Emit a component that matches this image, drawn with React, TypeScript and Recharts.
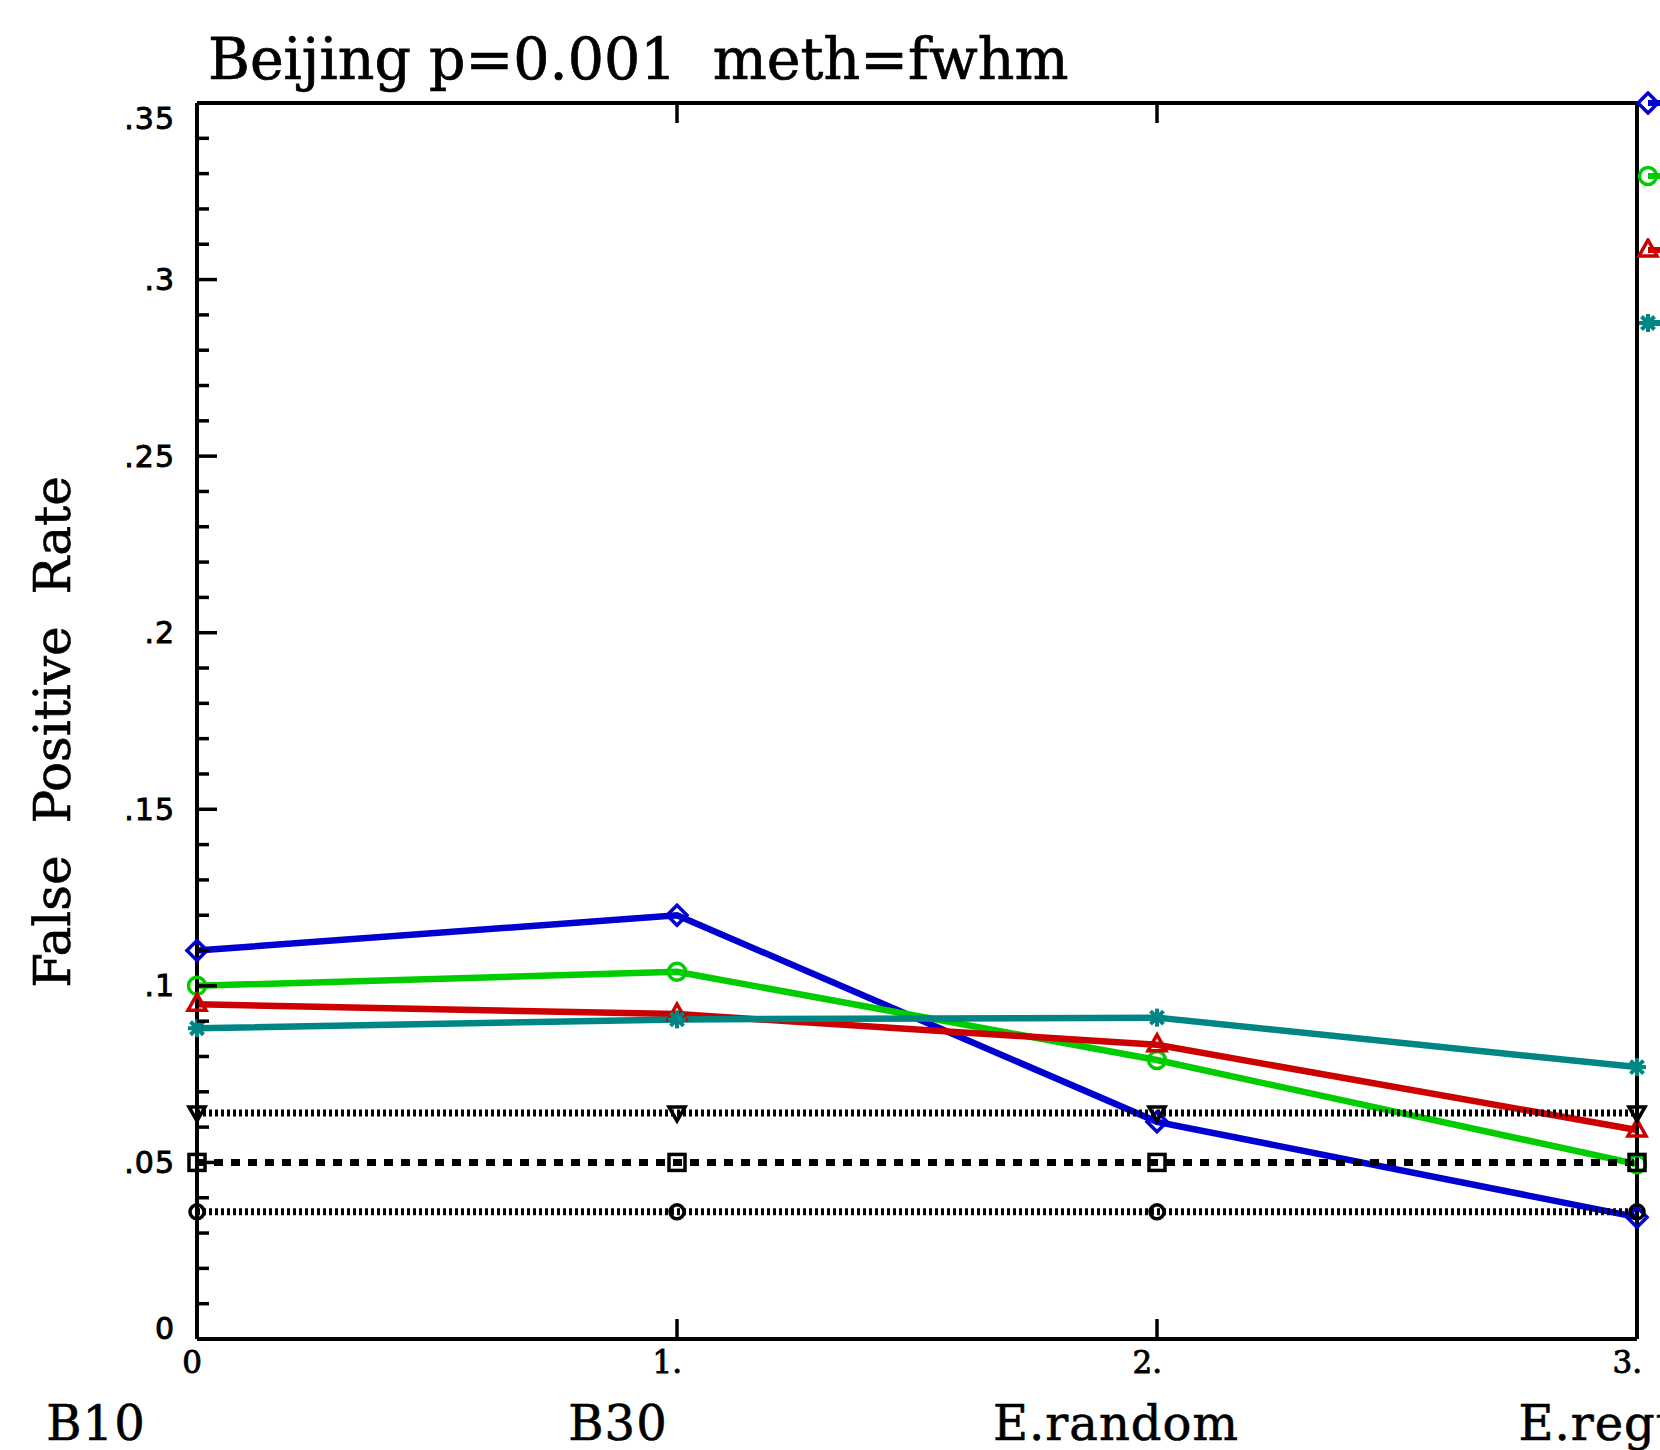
import { Legend, Line, LineChart, XAxis, YAxis } from "recharts";

// x positions and their category names
const positions = [0, 1, 2, 3];
const xTickLabels = ["0", "1.", "2.", "3."];
const categories = ["B10", "B30", "E.random", "E.regular"];

// false positive rates per design
const diamondRate = [0.11, 0.12, 0.0615, 0.0345];
const circleRate = [0.1, 0.104, 0.079, 0.0495];
const triangleRate = [0.0948, 0.092, 0.0833, 0.0592];
const asteriskRate = [0.088, 0.0905, 0.091, 0.077];

// nominal rate and its band
const upperBound = [0.064, 0.064, 0.064, 0.064];
const nominalRate = [0.05, 0.05, 0.05, 0.05];
const lowerBound = [0.036, 0.036, 0.036, 0.036];

const yTicks = [
  0, 0.01, 0.02, 0.03, 0.04, 0.05, 0.06, 0.07, 0.08, 0.09, 0.1, 0.11, 0.12,
  0.13, 0.14, 0.15, 0.16, 0.17, 0.18, 0.19, 0.2, 0.21, 0.22, 0.23, 0.24, 0.25,
  0.26, 0.27, 0.28, 0.29, 0.3, 0.31, 0.32, 0.33, 0.34, 0.35,
];
const yTickLabels: Record<number, string> = {
  0: "0", 5: ".05", 10: ".1", 15: ".15", 20: ".2", 25: ".25", 30: ".3", 35: ".35",
};

const rows = positions.map((x, i) => ({
  x,
  diamond: diamondRate[i],
  circle: circleRate[i],
  triangle: triangleRate[i],
  asterisk: asteriskRate[i],
  upper: upperBound[i],
  nominal: nominalRate[i],
  lower: lowerBound[i],
}));

const BLUE = "#0000d0";
const GREEN = "#00cc00";
const RED = "#cc0000";
const TEAL = "#008585";
const SERIF = "'DejaVu Serif', serif";
const SANS = "'DejaVu Sans', sans-serif";

// horizontal nudges for the category names under each tick
const categoryShift = [-101, -59, -41, 1];

type Shape = "diamond" | "circle" | "triangle" | "asterisk" | "triangleDown" | "square" | "ring";

function Marker({ shape, cx, cy, color }: { shape: Shape; cx: number; cy: number; color: string }) {
  const sw = 3.5;
  switch (shape) {
    case "diamond":
      return <path d={`M${cx} ${cy - 10}L${cx + 10} ${cy}L${cx} ${cy + 10}L${cx - 10} ${cy}Z`} fill="none" stroke={color} strokeWidth={sw} />;
    case "circle":
      return <circle cx={cx} cy={cy} r={8.5} fill="none" stroke={color} strokeWidth={sw} />;
    case "triangle":
      return <path d={`M${cx} ${cy - 10}L${cx + 9} ${cy + 6}L${cx - 9} ${cy + 6}Z`} fill="none" stroke={color} strokeWidth={sw} />;
    case "asterisk":
      return (
        <g stroke={color} strokeWidth={4}>
          <line x1={cx - 9} y1={cy} x2={cx + 9} y2={cy} />
          <line x1={cx} y1={cy - 9} x2={cx} y2={cy + 9} />
          <line x1={cx - 6.5} y1={cy - 6.5} x2={cx + 6.5} y2={cy + 6.5} />
          <line x1={cx - 6.5} y1={cy + 6.5} x2={cx + 6.5} y2={cy - 6.5} />
        </g>
      );
    case "triangleDown":
      return <path d={`M${cx - 8} ${cy - 6}L${cx + 8} ${cy - 6}L${cx} ${cy + 8}Z`} fill="none" stroke={color} strokeWidth={sw} />;
    case "square":
      return <rect x={cx - 8} y={cy - 8} width={16} height={16} fill="none" stroke={color} strokeWidth={sw} />;
    default:
      return <circle cx={cx} cy={cy} r={7} fill="none" stroke={color} strokeWidth={sw} />;
  }
}

const dotOf = (shape: Shape, color: string) => (p: any) =>
  <Marker key={`${shape}-${p.index}`} shape={shape} cx={p.cx} cy={p.cy} color={color} />;

// only the coloured series get a legend symbol, in plotting order
const legendOrder: Shape[] = ["diamond", "circle", "triangle", "asterisk"];

function LegendMarkers({ payload }: any) {
  const items = (payload || [])
    .filter((item: any) => legendOrder.includes(item.dataKey))
    .sort((a: any, b: any) => legendOrder.indexOf(a.dataKey) - legendOrder.indexOf(b.dataKey));
  return (
    <div>
      {items.map((item: any) => (
        <div key={item.dataKey} style={{ height: 73.3 }}>
          <svg width={40} height={24} style={{ display: "block" }}>
            <line x1={12} y1={12} x2={40} y2={12} stroke={item.color} strokeWidth={6} />
            <Marker shape={item.dataKey} cx={12} cy={12} color={item.color} />
          </svg>
        </div>
      ))}
    </div>
  );
}

function LeftTick({ x, y, payload }: any) {
  const h = Math.round(payload.value * 100);
  const major = h % 5 === 0;
  const edge = h === 0 || h === 35;
  const nudge = h === 35 ? 15 : h === 0 ? -11 : 0;
  return (
    <g>
      {!edge && <line x1={x} y1={y} x2={x + (major ? 20 : 12)} y2={y} stroke="#000" strokeWidth={3.5} />}
      {yTickLabels[h] !== undefined && (
        <text
          x={x - 22}
          y={y + nudge}
          textAnchor="end"
          dominantBaseline="central"
          fontFamily={SANS}
          fontSize={30}
          letterSpacing={1}
          fill="#000"
          stroke="#000"
          strokeWidth={0.9}
        >
          {yTickLabels[h]}
        </text>
      )}
    </g>
  );
}

function RightTick({ x, y, payload }: any) {
  const h = Math.round(payload.value * 100);
  if (h === 0 || h === 35) return <g />;
  return <line x1={x} y1={y} x2={x - (h % 5 === 0 ? 20 : 12)} y2={y} stroke="#000" strokeWidth={3.5} />;
}

function BottomTick({ x, y, payload }: any) {
  const i = positions.indexOf(payload.value);
  const inner = i > 0 && i < positions.length - 1;
  return (
    <g>
      {inner && <line x1={x} y1={y} x2={x} y2={y - 20} stroke="#000" strokeWidth={3.5} />}
      <text x={x + 5} y={y + 34} textAnchor="end" fontFamily={SERIF} fontSize={31} fill="#000" stroke="#000" strokeWidth={0.9}>
        {xTickLabels[i]}
      </text>
      <text
        x={x + categoryShift[i]}
        y={y + 101}
        textAnchor="middle"
        fontFamily={SERIF}
        fontSize={48}
        letterSpacing={1}
        fill="#000"
        stroke="#000"
        strokeWidth={0.6}
      >
        {categories[i]}
      </text>
    </g>
  );
}

function TopTick({ x, y, payload }: any) {
  const i = positions.indexOf(payload.value);
  if (i <= 0 || i >= positions.length - 1) return <g />;
  return <line x1={x} y1={y} x2={x} y2={y + 20} stroke="#000" strokeWidth={3.5} />;
}

function TitleLabel({ viewBox }: any) {
  if (!viewBox) return null;
  return (
    <text
      x={viewBox.x + 11}
      y={viewBox.y + viewBox.height - 24}
      fontFamily={SERIF}
      fontSize={57}
      fill="#000"
      stroke="#000"
      strokeWidth={0.7}
      style={{ whiteSpace: "pre" }}
    >
      {"Beijing p=0.001  meth=fwhm"}
    </text>
  );
}

function YTitle({ viewBox }: any) {
  if (!viewBox) return null;
  const cx = viewBox.x + viewBox.width - 127;
  const cy = viewBox.y + viewBox.height / 2 + 11;
  return (
    <text
      x={cx}
      y={cy}
      transform={`rotate(-90 ${cx} ${cy})`}
      textAnchor="middle"
      fontFamily={SERIF}
      fontSize={50}
      fill="#000"
      stroke="#000"
      strokeWidth={0.6}
      style={{ whiteSpace: "pre" }}
    >
      {"False  Positive  Rate"}
    </text>
  );
}

const frame = { stroke: "#000", strokeWidth: 4 };
// black reference lines: dotted band edges and the dashed nominal level
const dotted = { stroke: "#000", strokeWidth: 7, strokeDasharray: "3 3" };
const dashed = { stroke: "#000", strokeWidth: 7, strokeDasharray: "9 8" };

export default function App() {
  return (
    <div style={{ background: "#fff" }}>
      <style>{"body{margin:0;overflow:hidden;background:#fff}"}</style>
      <LineChart width={1660} height={1450} data={rows} margin={{ top: 102, right: 22, bottom: 110, left: 196 }}>
        <XAxis
          dataKey="x"
          type="number"
          domain={[0, 3]}
          ticks={positions}
          interval={0}
          height={1}
          tickSize={0}
          tickMargin={0}
          tickLine={false}
          axisLine={frame}
          tick={<BottomTick />}
        />
        <XAxis
          xAxisId="top"
          orientation="top"
          dataKey="x"
          type="number"
          domain={[0, 3]}
          ticks={positions}
          interval={0}
          height={1}
          tickSize={0}
          tickMargin={0}
          tickLine={false}
          axisLine={frame}
          tick={<TopTick />}
          label={<TitleLabel />}
        />
        <YAxis
          type="number"
          domain={[0, 0.35]}
          ticks={yTicks}
          interval={0}
          width={1}
          tickSize={0}
          tickMargin={0}
          tickLine={false}
          axisLine={frame}
          tick={<LeftTick />}
          label={<YTitle />}
        />
        <YAxis
          yAxisId="r"
          orientation="right"
          type="number"
          domain={[0, 0.35]}
          ticks={yTicks}
          interval={0}
          width={1}
          tickSize={0}
          tickMargin={0}
          tickLine={false}
          axisLine={frame}
          tick={<RightTick />}
        />
        <Legend
          layout="vertical"
          align="center"
          verticalAlign="middle"
          content={<LegendMarkers />}
          wrapperStyle={{ left: 1636, top: 91, width: 40 }}
        />
        <Line dataKey="diamond" stroke={BLUE} strokeWidth={6.5} dot={dotOf("diamond", BLUE)} activeDot={false} isAnimationActive={false} />
        <Line dataKey="circle" stroke={GREEN} strokeWidth={6.5} dot={dotOf("circle", GREEN)} activeDot={false} isAnimationActive={false} />
        <Line dataKey="triangle" stroke={RED} strokeWidth={6.5} dot={dotOf("triangle", RED)} activeDot={false} isAnimationActive={false} />
        <Line dataKey="asterisk" stroke={TEAL} strokeWidth={6.5} dot={dotOf("asterisk", TEAL)} activeDot={false} isAnimationActive={false} />
        <Line dataKey="upper" {...dotted} legendType="none" dot={dotOf("triangleDown", "#000")} activeDot={false} isAnimationActive={false} />
        <Line dataKey="nominal" {...dashed} legendType="none" dot={dotOf("square", "#000")} activeDot={false} isAnimationActive={false} />
        <Line dataKey="lower" {...dotted} legendType="none" dot={dotOf("ring", "#000")} activeDot={false} isAnimationActive={false} />
      </LineChart>
    </div>
  );
}
